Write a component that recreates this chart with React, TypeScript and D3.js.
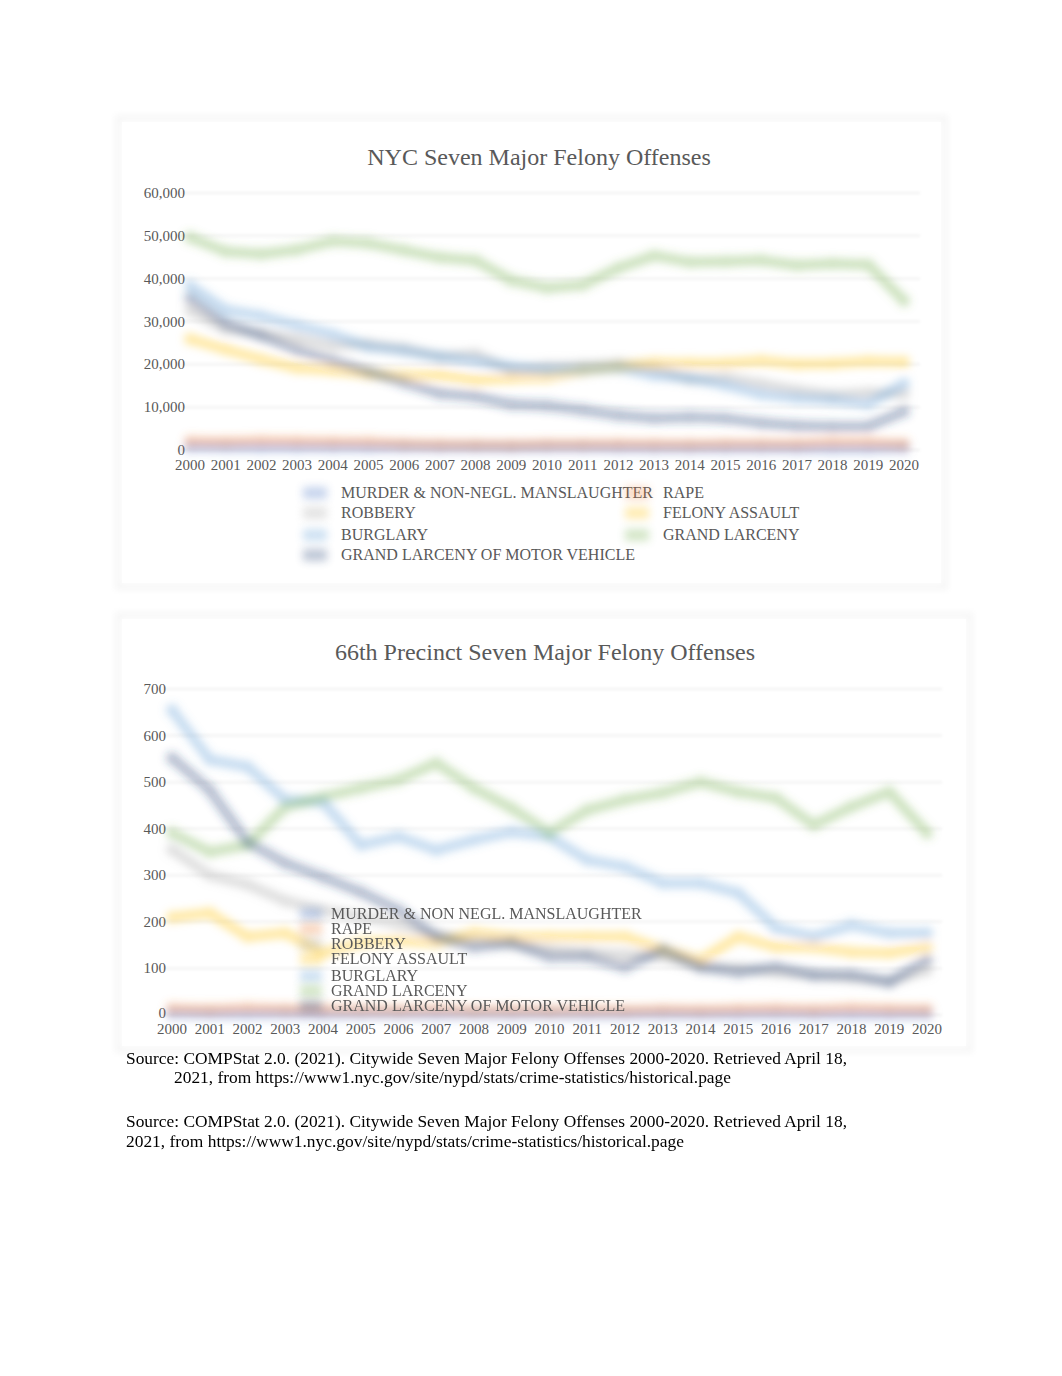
import React from 'react';
import * as d3 from 'd3';

const years = ['2000','2001','2002','2003','2004','2005','2006','2007','2008','2009','2010','2011','2012','2013','2014','2015','2016','2017','2018','2019','2020'];

const seriesNames = ['MURDER & NON-NEGL. MANSLAUGHTER','RAPE','ROBBERY','FELONY ASSAULT','BURGLARY','GRAND LARCENY','GRAND LARCENY OF MOTOR VEHICLE'];
const seriesNames2 = ['MURDER & NON NEGL. MANSLAUGHTER','RAPE','ROBBERY','FELONY ASSAULT','BURGLARY','GRAND LARCENY','GRAND LARCENY OF MOTOR VEHICLE'];
const seriesColors = ['#4472C4','#ED7D31','#A5A5A5','#FFC000','#5B9BD5','#70AD47','#264478'];

// NYC citywide
const nycMurder = [673,649,587,597,570,539,596,496,523,471,536,515,419,335,333,352,335,292,295,319,462];
const nycRape = [2068,1930,2144,2070,1905,1858,1525,1351,1299,1205,1373,1420,1445,1378,1352,1438,1438,1449,1794,1755,1427];
const nycRobbery = [32562,28202,27229,25989,24373,24722,23739,21809,22401,18601,19486,19717,20144,19128,16539,16931,15500,13956,12913,13371,13106];
const nycAssault = [25924,23453,21147,19139,18622,17750,17309,17493,16284,16773,16956,18482,19381,20297,20207,20270,20847,20052,20208,20698,20572];
const nycBurglary = [38352,32694,31275,29110,26976,24117,23143,21762,20725,19430,18600,18720,19168,17429,16765,15125,12990,12083,11687,10783,15478];
const nycLarceny = [49631,46329,45771,46751,48763,48243,46625,44924,44242,39580,37835,38501,42497,45368,43862,44005,44279,43150,43558,43250,34856];
const nycGLA = [35442,29531,26656,23413,20884,18246,15745,13174,12482,10670,10329,9314,8093,7400,7664,7332,6327,5676,5430,5514,9034];
const nycTicks = [0,10000,20000,30000,40000,50000,60000];

// 66th precinct
const p66Murder = [3,2,2,3,1,2,2,1,2,1,2,1,1,2,1,1,2,1,1,1,2];
const p66Rape = [14,12,15,13,12,11,10,12,9,10,9,11,10,12,11,13,14,12,15,13,12];
const p66Robbery = [355,300,280,245,225,212,195,172,160,152,140,135,130,125,104,100,92,86,80,72,96];
const p66Assault = [210,219,168,176,133,155,160,155,176,168,168,168,168,140,118,168,146,146,135,133,146];
const p66Burglary = [655,548,533,462,457,365,383,354,376,393,383,333,318,283,283,262,187,168,193,176,176];
const p66Larceny = [391,350,365,447,468,487,505,541,487,444,391,440,462,477,500,479,466,408,447,479,391];
const p66GLA = [552,483,371,326,296,264,225,168,146,155,125,125,103,140,103,92,103,86,86,71,118];
const p66Ticks = [0,100,200,300,400,500,600,700];

const nycSeries = [nycMurder,nycRape,nycRobbery,nycAssault,nycBurglary,nycLarceny,nycGLA];
const p66Series = [p66Murder,p66Rape,p66Robbery,p66Assault,p66Burglary,p66Larceny,p66GLA];

const FONT = '"Liberation Serif", "Times New Roman", serif';
const GRAY = '#595959';

function Lines({ series, x, y }: any) {
  const line = d3.line<number>().x((_, i) => x(years[i])!).y(d => y(d)).curve(d3.curveLinear);
  return (
    <g filter="url(#blurL)">
      {series.map((s: number[], k: number) => (
        <g key={k} opacity={0.36}>
          <path d={line(s)!} fill="none" stroke={seriesColors[k]} strokeWidth={10} strokeLinejoin="round" strokeLinecap="round" />
          {s.map((d, i) => (
            <circle key={i} cx={x(years[i])} cy={y(d)} r={6} fill={seriesColors[k]} />
          ))}
        </g>
      ))}
    </g>
  );
}

function Chart1() {
  const x = d3.scalePoint<string>().domain(years).range([190, 904]);
  const y = d3.scaleLinear().domain([0, 60000]).range([450, 193]);
  const fmt = d3.format(',');
  return (
    <g>
      <rect x={118} y={118} width={827} height={469} fill="#fff" stroke="#f6f6f6" strokeWidth={6} filter="url(#blurS)" />
      <rect x={122} y={122} width={819} height={461} fill="#fff" />
      <text x={539} y={165} textAnchor="middle" fontFamily={FONT} fontSize={24} fill={GRAY}>NYC Seven Major Felony Offenses</text>
      <g filter="url(#blurG)">
        {nycTicks.map(t => (
          <line key={t} x1={178} x2={920} y1={y(t)} y2={y(t)} stroke="#f0f0f0" strokeWidth={2} />
        ))}
      </g>
      {nycTicks.map(t => (
        <text key={t} x={185} y={y(t) + 5} textAnchor="end" fontFamily={FONT} fontSize={15} fill={GRAY}>{fmt(t)}</text>
      ))}
      {years.map(yr => (
        <text key={yr} x={x(yr)} y={470} textAnchor="middle" fontFamily={FONT} fontSize={15} fill={GRAY}>{yr}</text>
      ))}
      <Lines series={nycSeries} x={x} y={y} />
      {seriesNames.map((nm, k) => {
        const col = k % 2;
        const row = Math.floor(k / 2);
        const tx = col === 0 ? 341 : 663;
        const ty = [493, 513, 535, 555][row];
        return (
          <g key={nm}>
            <line x1={tx - 38} x2={tx - 14} y1={ty} y2={ty} stroke={seriesColors[k]} strokeWidth={12} opacity={0.3} filter="url(#blurL)" />
            <text x={tx} y={ty + 5} fontFamily={FONT} fontSize={16} fill={GRAY}>{nm}</text>
          </g>
        );
      })}
    </g>
  );
}

function Chart2() {
  const x = d3.scalePoint<string>().domain(years).range([172, 927]);
  const y = d3.scaleLinear().domain([0, 700]).range([1015, 689]);
  return (
    <g>
      <rect x={118} y={615} width={852} height={435} fill="#fff" stroke="#f6f6f6" strokeWidth={6} filter="url(#blurS)" />
      <rect x={122} y={619} width={844} height={427} fill="#fff" />
      <text x={545} y={660} textAnchor="middle" fontFamily={FONT} fontSize={24} fill={GRAY}>66th Precinct Seven Major Felony Offenses</text>
      <g filter="url(#blurG)">
        {p66Ticks.map(t => (
          <line key={t} x1={162} x2={942} y1={y(t)} y2={y(t)} stroke="#f0f0f0" strokeWidth={2} />
        ))}
      </g>
      {p66Ticks.map(t => (
        <text key={t} x={166} y={y(t) + (t === 0 ? 3 : 5)} textAnchor="end" fontFamily={FONT} fontSize={15} fill={GRAY}>{t}</text>
      ))}
      {years.map(yr => (
        <text key={yr} x={x(yr)} y={1034} textAnchor="middle" fontFamily={FONT} fontSize={15} fill={GRAY}>{yr}</text>
      ))}
      <Lines series={p66Series} x={x} y={y} />
      {seriesNames2.map((nm, k) => {
        const ty = [914, 929, 944, 959, 976, 991, 1006][k];
        return (
          <g key={nm}>
            <line x1={300} x2={322} y1={ty} y2={ty} stroke={seriesColors[k]} strokeWidth={12} opacity={0.3} filter="url(#blurL)" />
            <text x={331} y={ty + 5} fontFamily={FONT} fontSize={16} fill={GRAY}>{nm}</text>
          </g>
        );
      })}
    </g>
  );
}

export default function App() {
  return (
    <svg width={1062} height={1376} style={{ position: 'absolute', left: 0, top: 0, display: 'block', background: '#fff' }}>
      <defs>
        <filter id="blurL" filterUnits="userSpaceOnUse" x={0} y={0} width={1062} height={1376}>
          <feGaussianBlur stdDeviation={4.2} />
        </filter>
        <filter id="blurG" filterUnits="userSpaceOnUse" x={0} y={0} width={1062} height={1376}>
          <feGaussianBlur stdDeviation={1.5} />
        </filter>
        <filter id="blurS" filterUnits="userSpaceOnUse" x={0} y={0} width={1062} height={1376}>
          <feGaussianBlur stdDeviation={3} />
        </filter>
      </defs>
      <rect x={0} y={0} width={1062} height={1376} fill="#fff" />
      <Chart1 />
      <Chart2 />
      <g fontFamily={FONT} fontSize={17} fill="#000">
        <text x={126} y={1064} textLength={721} lengthAdjust="spacingAndGlyphs">Source: COMPStat 2.0. (2021). Citywide Seven Major Felony Offenses 2000-2020. Retrieved April 18,</text>
        <text x={174} y={1083} textLength={557} lengthAdjust="spacingAndGlyphs">2021, from https://www1.nyc.gov/site/nypd/stats/crime-statistics/historical.page</text>
        <text x={126} y={1127} textLength={721} lengthAdjust="spacingAndGlyphs">Source: COMPStat 2.0. (2021). Citywide Seven Major Felony Offenses 2000-2020. Retrieved April 18,</text>
        <text x={126} y={1147} textLength={558} lengthAdjust="spacingAndGlyphs">2021, from https://www1.nyc.gov/site/nypd/stats/crime-statistics/historical.page</text>
      </g>
    </svg>
  );
}
